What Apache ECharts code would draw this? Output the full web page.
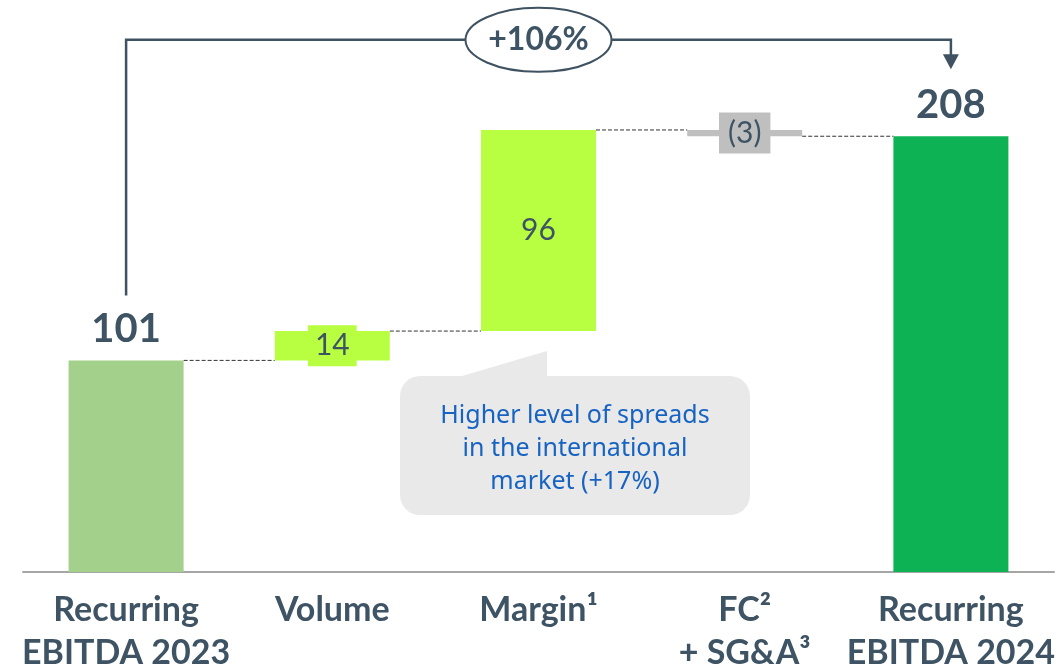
<!DOCTYPE html>
<html><head><meta charset="utf-8">
<script src="https://cdn.jsdelivr.net/npm/echarts@6/dist/echarts.min.js"></script>
<style>html,body{margin:0;padding:0;background:#fff}#c{width:1063px;height:667px}</style>
</head><body><div id="c"></div>
<script>
// ---- data ----
const categories = ['Recurring\nEBITDA 2023', 'Volume', 'Margin¹', 'FC²\n+ SG&A³', 'Recurring\nEBITDA 2024'];
const baseValues = [0, 101, 115, 208, 0];
const deltaValues = [101, 14, 96, 3, 208];
const valueLabels = ['101', '14', '96', '(3)', '208'];
const connectorLevels = [101, 115, 211, 208];
const growthLabel = '+106%';
const calloutLines = ['Higher level of spreads', 'in the international', 'market (+17%)'];

// ---- styles ----
const barColors = ['#a3d08a', '#b9ff41', '#b9ff41', '#bfbfbf', '#0db254'];
const dark = '#3e5363';
const BAR_W = 115;
const FONT = 'Lato, "Noto Sans", sans-serif';

const chart = echarts.init(document.getElementById('c'));

function labelFor(i) {
  if (i === 0 || i === 4) {
    return { show: true, position: 'top', distance: 11, fontSize: 40, fontWeight: 'bold',
      fontFamily: FONT, color: dark, lineHeight: 40, formatter: valueLabels[i] };
  }
  const l = { show: true, position: 'inside', fontSize: 30, fontFamily: FONT, color: dark,
    lineHeight: 31, formatter: valueLabels[i] };
  if (i === 1) { l.backgroundColor = barColors[1]; l.padding = [5, 7]; }
  if (i === 3) { l.backgroundColor = barColors[3]; l.padding = [5, 9]; }
  return l;
}

const option = {
  animation: false,
  grid: { left: 23, right: 9, top: 48.25, bottom: 95, containLabel: false, outerBoundsMode: 'none' },
  xAxis: {
    type: 'category', data: categories,
    axisTick: { show: false },
    axisLine: { lineStyle: { color: '#a6a6a6', width: 2 } },
    axisLabel: { interval: 0, margin: 17, fontSize: 34, fontWeight: 'bold', fontFamily: FONT,
      color: dark, lineHeight: 43 }
  },
  yAxis: { type: 'value', min: 0, max: 250, show: false, splitLine: { show: false } },
  series: [
    { type: 'bar', stack: 'w', barWidth: BAR_W, silent: true,
      itemStyle: { color: 'transparent' }, data: baseValues },
    { type: 'bar', stack: 'w', barWidth: BAR_W, silent: true,
      data: deltaValues.map((v, i) => ({ value: v, itemStyle: { color: barColors[i] }, label: labelFor(i) })) },
    { type: 'custom', silent: true, z: 1,
      data: connectorLevels.map((v, i) => [i, v]),
      renderItem(params, api) {
        const i = api.value(0), v = api.value(1);
        const p1 = api.coord([i, v]), p2 = api.coord([i + 1, v]);
        return { type: 'line',
          shape: { x1: p1[0] + BAR_W / 2, y1: p1[1], x2: p2[0] - BAR_W / 2, y2: p2[1] },
          style: { stroke: '#333', lineWidth: 1, lineDash: [4, 2] } };
      }
    }
  ]
};
chart.setOption(option);

// ---- annotations anchored to data coordinates ----
const px = (c, v) => chart.convertToPixel({ gridIndex: 0 }, [c, v]);
const start = px(0, 132);
const topY = px(0, 254)[1];
const endX = px(4, 0)[0];
const tipY = px(4, 240)[1];
const midX = px(2, 0)[0];
const lineCol = '#3f5261';
const anchor = px(2, 115); // bottom of Margin bar

chart.setOption({
  graphic: [
    { type: 'polyline', silent: true, z: 10,
      shape: { points: [[start[0], start[1]], [start[0], topY], [endX, topY], [endX, tipY - 14]] },
      style: { stroke: lineCol, lineWidth: 2.5, fill: null } },
    { type: 'polygon', silent: true, z: 10,
      shape: { points: [[endX - 8, tipY - 15], [endX + 8, tipY - 15], [endX, tipY]] },
      style: { fill: lineCol } },
    { type: 'ellipse', silent: true, z: 11,
      shape: { cx: midX, cy: topY, rx: 73, ry: 32 },
      style: { fill: '#fff', stroke: lineCol, lineWidth: 2 } },
    { type: 'text', silent: true, z: 12, x: midX, y: topY,
      style: { text: growthLabel, fill: dark, font: 'bold 32px ' + FONT,
        textAlign: 'center', textVerticalAlign: 'middle' } },
    // callout
    { type: 'rect', silent: true, z: 5,
      shape: { x: anchor[0] - 138.5, y: anchor[1] + 45, width: 350, height: 139, r: 20 },
      style: { fill: '#e9e9e9' } },
    { type: 'polygon', silent: true, z: 5,
      shape: { points: [[anchor[0] - 80, anchor[1] + 46], [anchor[0] + 8.5, anchor[1] + 20], [anchor[0] + 8.5, anchor[1] + 46]] },
      style: { fill: '#e9e9e9' } },
    { type: 'text', silent: true, z: 6, x: anchor[0] + 36.5, y: anchor[1] + 118,
      style: { text: calloutLines.join('\n'), fill: '#1763c2', font: '25px "Noto Sans", sans-serif',
        lineHeight: 33, textAlign: 'center', textVerticalAlign: 'middle' } }
  ]
});
</script>
</body></html>
